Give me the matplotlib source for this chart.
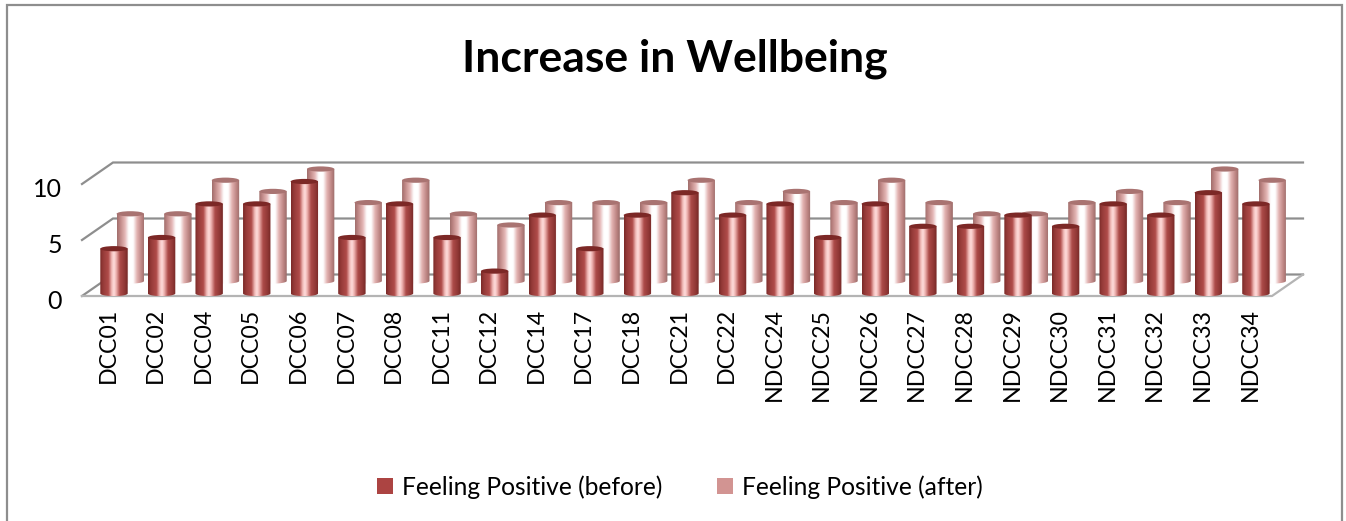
import matplotlib
matplotlib.use("Agg")
import matplotlib.pyplot as plt
import numpy as np
from matplotlib.colors import LinearSegmentedColormap
from matplotlib.patches import Ellipse, Patch, Rectangle
from matplotlib.path import Path
from matplotlib.transforms import ScaledTranslation

categories = ["DCC01","DCC02","DCC04","DCC05","DCC06","DCC07","DCC08","DCC11","DCC12","DCC14",
              "DCC17","DCC18","DCC21","DCC22","NDCC24","NDCC25","NDCC26","NDCC27","NDCC28","NDCC29",
              "NDCC30","NDCC31","NDCC32","NDCC33","NDCC34"]
before = [4,5,8,8,10,5,8,5,2,7,4,7,9,7,8,5,8,6,6,7,6,8,7,9,8]
after = [6,6,9,8,10,7,9,6,5,7,7,7,9,7,8,7,9,7,6,6,7,8,7,10,9]
y_ticks = [0,5,10]

W, H = 1346, 521
plt.rcParams['font.family'] = ['Lato', 'DejaVu Sans']
fig = plt.figure(figsize=(W/100, H/100), dpi=100, facecolor='white')

L, R, T, B = 82, 1272, 184, 296
ax = fig.add_axes([L/W, 1-B/H, (R-L)/W, (B-T)/H])
px = 47.58   # px per category
py = 11.2    # px per value
x0 = 114
xlim = ((L-x0)/px, (R-x0)/px)
ylim = (0, 10)

GRAY = '#8e8e8e'
dx, dy = 31/px, 21.5/py

# floor and walls
for v in y_ticks:
    ax.plot([xlim[0], xlim[0]+dx, xlim[1]+dx], [v, v+dy, v+dy], color=GRAY, lw=1.6,
            clip_on=False, zorder=1, solid_joinstyle='miter')
ax.plot([xlim[0], xlim[1], xlim[1]+dx], [0, 0, dy], color='#b4b4b4', lw=1.6, clip_on=False, zorder=1)

cm_before = LinearSegmentedColormap.from_list('b', [
    (0.00, '#7a2a28'), (0.10, '#943a38'), (0.30, '#b04c4a'), (0.42, '#f2bcba'),
    (0.50, '#ffdedd'), (0.58, '#efb4b2'), (0.72, '#ab4a48'), (0.88, '#923836'), (1.00, '#742826')])
cm_after = LinearSegmentedColormap.from_list('a', [
    (0.00, '#a06e6c'), (0.10, '#bd8583'), (0.28, '#e4b6b5'), (0.42, '#ffffff'),
    (0.58, '#ffffff'), (0.72, '#e2b2b1'), (0.88, '#bd8583'), (1.00, '#9a6a68')])

hw = 13.7/px
ry = 2.6/py
grad = np.linspace(0, 1, 128).reshape(1, -1)

def cylinder(xc, base, height, cmap, top_color, z):
    top = base + height
    t = np.linspace(0, np.pi, 30)
    xs = np.r_[xc-hw, xc-hw*np.cos(t), xc+hw, xc-hw]
    ys = np.r_[top, base-ry*np.sin(t), top, top]
    im = ax.imshow(grad, extent=[xc-hw, xc+hw, base-ry, top], cmap=cmap, aspect='auto',
                   interpolation='bilinear', zorder=z)
    im.set_clip_box(fig.bbox)
    im.set_clip_path(Path(np.c_[xs, ys]), transform=ax.transData)
    ax.add_patch(Ellipse((xc, top), 2*hw, 2*ry, facecolor=top_color, edgecolor='none',
                         zorder=z+0.01, clip_on=False))

x = np.arange(len(categories))
for i, v in enumerate(after):
    cylinder(i+16.3/px, 15/py, v, cm_after, '#a97371', 2+i*0.05)
for i, v in enumerate(before):
    cylinder(i, 2.5/py, v, cm_before, '#7c2826', 4+i*0.05)

ax.set_xlim(*xlim)
ax.set_ylim(*ylim)
ax.set_xticks(x, categories, rotation=90, fontsize=16.7, color='black')
ax.set_yticks(y_ticks, [str(v) for v in y_ticks], fontsize=18, color='black')
ax.tick_params(axis='x', length=0, pad=8.5)
ax.tick_params(axis='y', length=0, pad=14.5)
shift_x = ScaledTranslation(-6/100, 0, fig.dpi_scale_trans)
shift_y = ScaledTranslation(0, -3.5/100, fig.dpi_scale_trans)
for lab in ax.get_xticklabels():
    lab.set_transform(lab.get_transform() + shift_x)
for lab in ax.get_yticklabels():
    lab.set_transform(lab.get_transform() + shift_y)
for s in ax.spines.values():
    s.set_visible(False)
ax.patch.set_alpha(0)

fig.text(675/W, 1-59/H, "Increase in Wellbeing", ha='center', va='center',
         fontsize=32, fontweight='bold', color='black')

fig.legend(handles=[Patch(facecolor='#ac4442', label='Feeling Positive (before)'),
                    Patch(facecolor='#d29492', label='Feeling Positive (after)')],
           loc='center', bbox_to_anchor=(680/W, 1-487/H), ncol=2, frameon=False,
           fontsize=17.7, handlelength=0.66, handleheight=0.66, handletextpad=0.38, columnspacing=2.2)

fig.add_artist(Rectangle((7/W, -0.02), (1342-7)/W, 1.02-5/H, transform=fig.transFigure,
                         fill=False, edgecolor='#8e8e8e', lw=1.6))

fig.savefig('out.png', dpi=100)
